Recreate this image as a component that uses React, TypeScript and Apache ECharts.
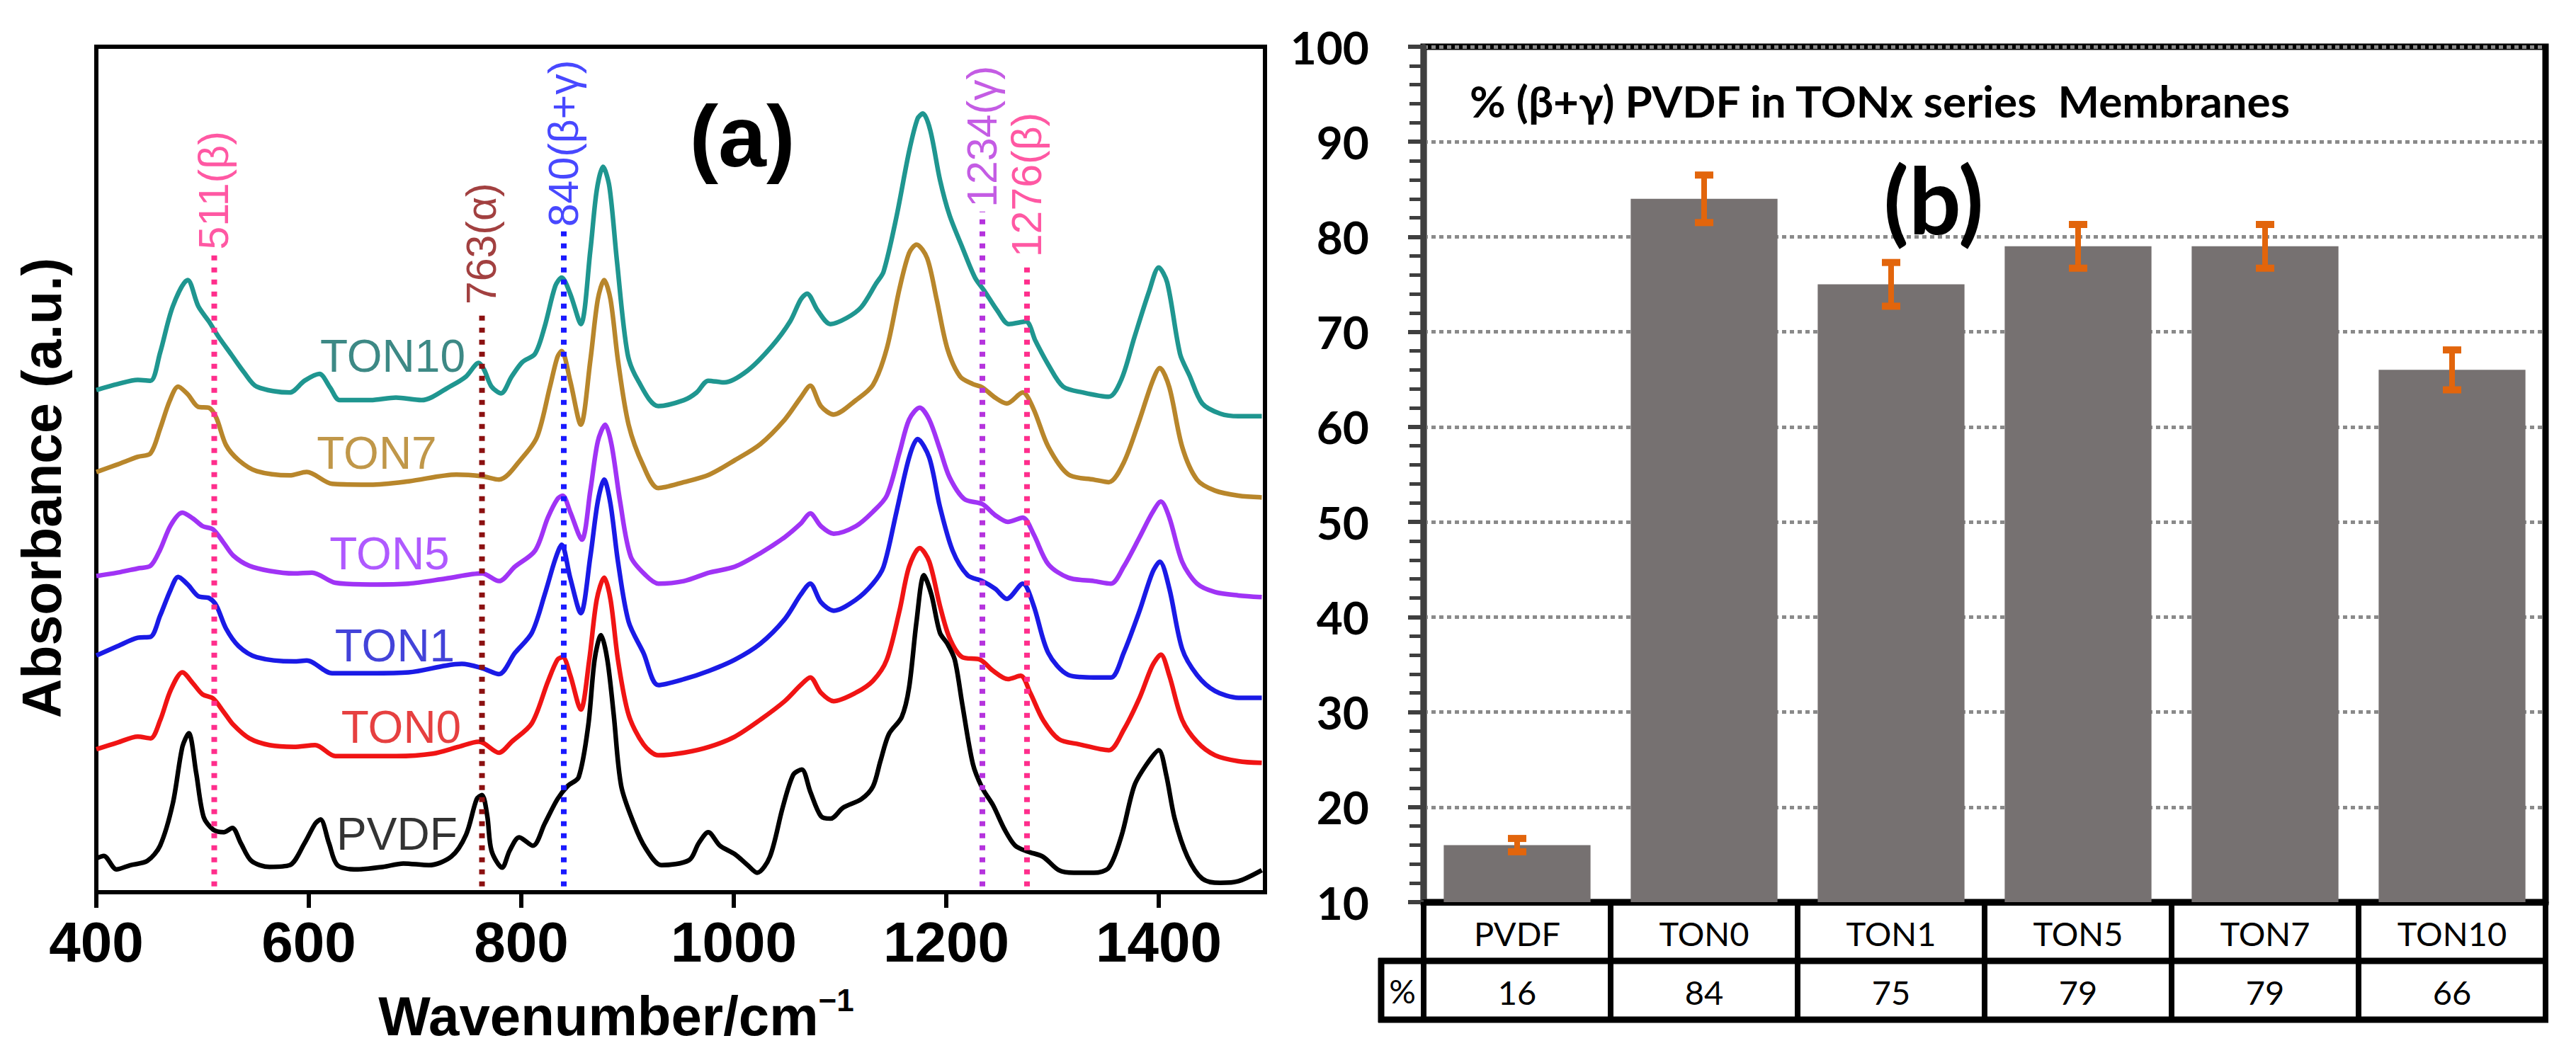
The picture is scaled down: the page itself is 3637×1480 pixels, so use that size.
import React, { useEffect, useRef } from "react";
import * as echarts from "echarts";

const PAGE_W = 3637;
const PAGE_H = 1480;

// ---------------- Panel (a): FTIR spectra (absorbance, arbitrary offset units) ----------------
const wavenumberTicks = [400, 600, 800, 1000, 1200, 1400];

const spectrumPVDF = [
  [400, 4.0], [407, 4.3], [419, 2.7], [432, 3.2], [448, 3.7], [460, 5.5], [472, 10.5], [481, 17.2], [487, 18.8],
  [494, 14.1], [501, 8.9], [510, 7.4], [520, 7.1], [528, 7.6], [536, 5.8], [546, 3.7], [563, 3.0], [582, 3.2],
  [596, 5.8], [606, 8.1], [611, 8.6], [619, 5.8], [627, 3.2], [646, 2.7], [670, 3.0], [689, 3.4], [713, 3.2],
  [734, 4.2], [748, 6.8], [758, 11.0], [763, 11.5], [768, 9.0], [772, 4.9], [782, 2.9], [789, 4.9], [798, 6.5],
  [811, 5.5], [822, 8.1], [834, 11.0], [844, 12.6], [854, 13.6], [863, 19.7], [869, 27.5], [875, 30.4], [881, 27.5],
  [887, 21.0], [894, 12.6], [906, 8.1], [917, 5.2], [932, 3.2], [958, 3.8], [967, 5.8], [976, 7.1], [987, 5.5],
  [1001, 4.5], [1013, 3.2], [1022, 2.3], [1034, 4.2], [1046, 10.0], [1056, 13.9], [1064, 14.5], [1072, 11.9],
  [1082, 9.0], [1091, 8.7], [1103, 10.0], [1120, 11.0], [1131, 12.5], [1138, 15.5], [1146, 18.7], [1158, 20.7],
  [1165, 24.2], [1172, 32.0], [1179, 37.5], [1186, 35.2], [1194, 30.7], [1201, 29.4], [1208, 27.5], [1215, 22.3],
  [1225, 15.2], [1234, 12.3], [1244, 10.3], [1255, 7.4], [1265, 5.5], [1277, 4.8], [1291, 4.2], [1306, 2.6],
  [1320, 2.3], [1339, 2.3], [1353, 2.9], [1365, 6.7], [1377, 12.6], [1389, 15.2], [1400, 16.8], [1407, 13.9],
  [1415, 8.7], [1427, 4.2], [1441, 1.6], [1458, 1.1], [1475, 1.3], [1497, 2.6],
];

const spectrumTON0 = [
  [400, 16.9], [420, 17.7], [439, 18.4], [451, 18.2], [460, 20.3], [470, 23.9], [481, 26.0], [491, 24.7], [500, 23.4],
  [510, 22.9], [520, 21.3], [529, 19.8], [544, 18.2], [563, 17.4], [586, 17.2], [606, 17.4], [625, 16.1], [646, 16.1],
  [682, 16.1], [717, 16.4], [741, 17.2], [760, 17.8], [765, 17.6], [779, 16.5], [791, 17.8], [810, 20.0], [825, 24.9],
  [834, 27.5], [839, 27.8], [846, 25.7], [856, 21.6], [864, 27.5], [871, 34.6], [878, 37.2], [884, 34.6], [891, 27.5],
  [901, 21.0], [915, 17.5], [929, 16.2], [953, 16.5], [977, 17.2], [1001, 18.4], [1025, 20.4], [1048, 22.6],
  [1063, 24.5], [1072, 25.4], [1082, 23.6], [1094, 22.6], [1115, 23.6], [1131, 25.0], [1144, 27.5], [1156, 33.3],
  [1165, 38.5], [1175, 40.7], [1184, 39.1], [1194, 33.9], [1203, 30.1], [1215, 27.8], [1232, 27.5], [1244, 26.2],
  [1258, 25.2], [1270, 25.6], [1279, 23.6], [1291, 20.4], [1306, 18.1], [1325, 17.5], [1353, 16.8], [1367, 19.2],
  [1382, 23.0], [1394, 26.8], [1402, 28.1], [1410, 25.6], [1422, 20.4], [1436, 17.8], [1453, 16.2], [1475, 15.5],
  [1497, 15.3],
];

const spectrumTON1 = [
  [400, 28.0], [420, 29.1], [439, 30.1], [451, 30.2], [460, 32.7], [470, 35.8], [477, 37.3], [486, 36.4], [496, 35.0],
  [506, 34.8], [513, 33.9], [522, 31.2], [534, 29.1], [551, 27.8], [586, 27.3], [598, 27.4], [622, 25.9], [658, 25.9],
  [694, 26.0], [729, 26.8], [744, 27.0], [763, 26.5], [779, 25.8], [794, 28.3], [810, 30.7], [822, 35.2], [832, 39.4],
  [838, 41.1], [846, 37.2], [856, 33.0], [865, 39.7], [872, 46.2], [878, 48.8], [884, 45.9], [891, 39.1], [901, 32.0],
  [915, 28.3], [929, 24.5], [953, 25.2], [977, 26.2], [1001, 27.5], [1025, 29.4], [1048, 32.3], [1063, 35.2],
  [1072, 36.5], [1082, 34.3], [1094, 33.3], [1115, 34.6], [1131, 36.5], [1141, 38.5], [1153, 44.9], [1165, 51.4],
  [1173, 53.6], [1184, 51.4], [1194, 45.6], [1206, 40.4], [1220, 37.5], [1234, 36.8], [1246, 35.9], [1257, 34.7],
  [1272, 36.5], [1282, 34.0], [1296, 28.3], [1315, 25.7], [1339, 25.4], [1355, 25.4], [1367, 28.3], [1382, 33.3],
  [1394, 37.8], [1401, 39.1], [1410, 35.9], [1422, 28.8], [1436, 25.7], [1453, 23.8], [1475, 23.0], [1497, 23.0],
];

const spectrumTON5 = [
  [400, 37.4], [420, 37.8], [439, 38.3], [451, 38.6], [460, 40.5], [470, 43.4], [481, 44.9], [491, 44.2], [500, 43.3],
  [510, 42.9], [520, 41.3], [529, 39.8], [544, 38.6], [563, 38.0], [586, 37.7], [603, 37.8], [625, 36.6], [658, 36.4],
  [694, 36.5], [729, 37.1], [763, 37.7], [779, 36.8], [794, 38.5], [813, 40.4], [825, 44.3], [834, 46.5], [839, 46.9],
  [846, 45.0], [857, 41.7], [865, 47.5], [872, 53.3], [879, 55.3], [885, 52.9], [893, 46.2], [903, 39.7], [917, 37.5],
  [929, 36.5], [953, 36.8], [977, 37.8], [1001, 38.5], [1025, 40.1], [1048, 42.0], [1063, 43.6], [1072, 44.8],
  [1082, 43.3], [1094, 42.4], [1115, 43.3], [1131, 45.0], [1144, 46.9], [1156, 52.0], [1165, 55.9], [1175, 57.3],
  [1184, 55.9], [1194, 52.4], [1203, 49.1], [1217, 46.5], [1234, 45.9], [1246, 44.6], [1258, 43.8], [1272, 44.3],
  [1282, 42.4], [1296, 38.8], [1315, 37.2], [1339, 36.8], [1355, 36.5], [1367, 38.5], [1382, 42.0], [1394, 44.9],
  [1402, 46.2], [1410, 44.3], [1422, 39.1], [1436, 36.5], [1453, 35.5], [1475, 35.1], [1497, 34.9],
];

const spectrumTON7 = [
  [400, 49.7], [420, 50.6], [439, 51.5], [451, 51.9], [460, 54.8], [469, 58.1], [477, 59.8], [486, 58.9], [496, 57.4],
  [506, 57.3], [513, 56.1], [522, 52.9], [534, 51.1], [551, 49.8], [582, 49.3], [598, 49.7], [622, 48.3], [658, 48.2],
  [694, 48.6], [739, 49.4], [763, 49.2], [779, 48.8], [801, 51.4], [815, 53.9], [827, 59.8], [834, 63.3], [838, 64.0],
  [846, 60.5], [856, 55.3], [865, 62.9], [872, 70.1], [878, 72.4], [884, 70.1], [891, 62.9], [901, 55.3], [915, 50.4],
  [929, 47.8], [953, 48.5], [977, 49.4], [1001, 51.1], [1025, 53.0], [1048, 55.9], [1063, 58.5], [1072, 59.9],
  [1082, 57.5], [1094, 56.5], [1115, 58.2], [1131, 60.0], [1144, 64.3], [1156, 71.4], [1165, 75.6], [1172, 76.6],
  [1182, 75.0], [1191, 70.1], [1201, 64.3], [1213, 61.0], [1225, 60.1], [1234, 59.7], [1246, 58.5], [1257, 57.8],
  [1272, 59.1], [1282, 57.2], [1296, 52.7], [1315, 49.4], [1339, 48.8], [1353, 48.5], [1367, 50.8], [1382, 55.9],
  [1394, 60.4], [1401, 62.0], [1410, 59.7], [1422, 52.7], [1436, 48.8], [1453, 47.5], [1475, 46.9], [1497, 46.7],
];

const spectrumTON10 = [
  [400, 59.4], [420, 60.1], [439, 60.6], [451, 60.5], [460, 63.8], [472, 69.3], [486, 72.4], [496, 69.3], [506, 67.5],
  [515, 65.7], [527, 63.6], [539, 61.5], [551, 59.8], [582, 59.1], [596, 60.5], [610, 61.3], [620, 59.7], [629, 58.2],
  [658, 58.2], [682, 58.5], [706, 58.2], [734, 59.9], [748, 61.0], [760, 62.6], [765, 61.8], [772, 59.8], [781, 59.0],
  [791, 61.0], [801, 62.7], [813, 63.7], [822, 66.9], [832, 71.7], [838, 72.7], [846, 70.8], [856, 67.2], [865, 75.9],
  [871, 83.0], [877, 85.8], [883, 83.4], [890, 74.7], [900, 63.7], [910, 60.5], [929, 57.5], [953, 58.2], [965, 59.1],
  [976, 60.5], [991, 60.3], [1013, 61.7], [1036, 64.6], [1053, 67.5], [1063, 70.1], [1069, 70.8], [1079, 68.8],
  [1091, 67.2], [1106, 67.9], [1120, 69.2], [1134, 72.0], [1141, 73.4], [1153, 79.8], [1165, 87.6], [1173, 91.5],
  [1178, 92.1], [1185, 90.1], [1194, 84.3], [1203, 80.1], [1215, 76.3], [1227, 72.7], [1236, 71.1], [1248, 68.8],
  [1259, 67.2], [1275, 67.5], [1284, 65.2], [1296, 62.4], [1310, 59.8], [1329, 59.1], [1353, 58.6], [1365, 60.7],
  [1377, 65.6], [1391, 71.1], [1400, 73.9], [1408, 72.1], [1420, 63.7], [1429, 61.1], [1441, 57.8], [1458, 56.6],
  [1475, 56.3], [1497, 56.3],
];

const spectrumNames = ["PVDF", "TON0", "TON1", "TON5", "TON7", "TON10"];
const spectra = [spectrumPVDF, spectrumTON0, spectrumTON1, spectrumTON5, spectrumTON7, spectrumTON10];
const spectrumLabelAnchors = [
  [683, 6.9], [687, 19.5], [681, 29.1], [676, 40.0], [664, 51.9], [679, 63.4],
];

const peakWavenumbers = [511, 763, 840, 1234, 1276];
const peakLabels = ["511(β)", "763(α)", "840(β+γ)", "1234(γ)", "1276(β)"];
const peakLineTops = [75.5, 69.0, 78.2, 80.5, 74.6];
const peakLineBottom = 0.7;

// ---------------- Panel (b): % (β+γ) bar chart ----------------
const membranes = ["PVDF", "TON0", "TON1", "TON5", "TON7", "TON10"];
const betaGammaPercent = [16, 84, 75, 79, 79, 66];
const betaGammaError = [0.7, 2.5, 2.3, 2.3, 2.3, 2.1];

// ---------------- Styles ----------------
const spectrumColors = ["#000000", "#f01414", "#1a1ae6", "#a033f5", "#b8862b", "#1f9690"];
const spectrumLabelColors = ["#000000", "#e01010", "#1414d0", "#9b30ff", "#b07d1c", "#0d6b66"];
const peakColors = ["#ff2e8c", "#8b1010", "#1a1aff", "#b533dd", "#ff2e8c"];

const FA = '"Liberation Sans", Arial, sans-serif';
const FB = 'Lato, "Open Sans", sans-serif';

// layout
const GA = { left: 136, top: 66, width: 1650, height: 1194 };
const GB = { left: 2010, top: 66, width: 1584, height: 1208 };
const ROW_H = 83;

function buildOption(): any {
  const gbBottom = GB.top + GB.height;
  const gbRight = GB.left + GB.width;

  const spectrumSeries = spectra
    .map((d, i) => ({
      type: "line",
      name: spectrumNames[i],
      xAxisIndex: 0,
      yAxisIndex: 0,
      data: d,
      showSymbol: false,
      symbol: "none",
      smooth: 0.3,
      lineStyle: { color: spectrumColors[i], width: 6.5 },
      z: 2,
    }))
    .reverse();

  const peakLineSeries = peakWavenumbers.map((w, i) => ({
    type: "line",
    xAxisIndex: 0,
    yAxisIndex: 0,
    data: [
      [w, peakLineBottom],
      [w, peakLineTops[i]],
    ],
    symbol: "none",
    lineStyle: { color: peakColors[i], width: 8, type: [7, 10], cap: "butt" },
    z: 4,
  }));

  const peakLabelSeries = {
    type: "scatter",
    xAxisIndex: 0,
    yAxisIndex: 0,
    symbolSize: 0.1,
    itemStyle: { color: "transparent" },
    z: 5,
    data: peakWavenumbers.map((w, i) => ({
      value: [w, peakLineTops[i]],
      label: { formatter: peakLabels[i], color: peakColors[i] },
    })),
    label: {
      show: true,
      position: [0, -6],
      align: "left",
      verticalAlign: "middle",
      rotate: 90,
      fontFamily: FA,
      fontSize: 59,
    },
  };

  const spectrumLabelSeries = {
    type: "scatter",
    xAxisIndex: 0,
    yAxisIndex: 0,
    symbolSize: 0.1,
    itemStyle: { color: "transparent" },
    z: 5,
    data: spectrumLabelAnchors.map((p, i) => ({
      value: p,
      label: { formatter: spectrumNames[i], color: spectrumLabelColors[i] },
    })),
    label: {
      show: true,
      position: [0, 0],
      align: "center",
      verticalAlign: "middle",
      fontFamily: FA,
      fontSize: 64,
    },
  };

  const barSeries = {
    type: "bar",
    xAxisIndex: 1,
    yAxisIndex: 1,
    data: betaGammaPercent,
    barWidth: "78.5%",
    itemStyle: { color: "#767171" },
    z: 2,
  };

  const errorSeries = {
    type: "custom",
    xAxisIndex: 1,
    yAxisIndex: 1,
    z: 4,
    encode: { x: 0, y: [1, 2] },
    data: betaGammaPercent.map((v, i) => [i, v - betaGammaError[i], v + betaGammaError[i]]),
    renderItem: (params: any, api: any) => {
      const x = api.value(0);
      const lo = api.coord([x, api.value(1)]);
      const hi = api.coord([x, api.value(2)]);
      const c = "#e2650c";
      const half = 13;
      return {
        type: "group",
        children: [
          { type: "line", shape: { x1: lo[0], y1: lo[1], x2: hi[0], y2: hi[1] }, style: { stroke: c, lineWidth: 8 } },
          { type: "line", shape: { x1: lo[0] - half, y1: lo[1], x2: lo[0] + half, y2: lo[1] }, style: { stroke: c, lineWidth: 10 } },
          { type: "line", shape: { x1: hi[0] - half, y1: hi[1], x2: hi[0] + half, y2: hi[1] }, style: { stroke: c, lineWidth: 10 } },
        ],
      };
    },
  };

  const tableLabelStyle = {
    margin: 20,
    fontFamily: FB,
    fontSize: 47,
    lineHeight: 47,
    color: "#000",
  };

  return {
    animation: false,
    backgroundColor: "#ffffff",
    textStyle: { fontFamily: FA },
    grid: [
      { ...GA, show: true, borderColor: "#000", borderWidth: 6, backgroundColor: "transparent", containLabel: false },
      { ...GB, show: true, borderColor: "#000", borderWidth: 9, backgroundColor: "transparent", containLabel: false },
    ],
    xAxis: [
      {
        type: "value",
        gridIndex: 0,
        min: 400,
        max: 1500,
        interval: 200,
        axisLine: { show: true, onZero: false, lineStyle: { color: "#000", width: 6 } },
        axisTick: { show: true, customValues: wavenumberTicks, length: 22, lineStyle: { color: "#000", width: 6 } },
        axisLabel: {
          customValues: wavenumberTicks,
          formatter: (v: number) => String(v),
          margin: 30,
          fontFamily: FA,
          fontWeight: "bold",
          fontSize: 80,
          lineHeight: 80,
          color: "#000",
        },
        splitLine: { show: false },
      },
      {
        type: "category",
        gridIndex: 1,
        data: membranes,
        position: "bottom",
        axisLine: { show: true, onZero: false, lineStyle: { color: "#000", width: 9 } },
        axisTick: { show: true, alignWithLabel: false, length: ROW_H * 2, lineStyle: { color: "#000", width: 8 } },
        axisLabel: tableLabelStyle,
        splitLine: { show: false },
      },
      {
        type: "category",
        gridIndex: 1,
        data: betaGammaPercent.map(String),
        position: "bottom",
        offset: ROW_H,
        axisLine: { show: false },
        axisTick: { show: false },
        axisLabel: tableLabelStyle,
        splitLine: { show: false },
      },
    ],
    yAxis: [
      { type: "value", gridIndex: 0, min: 0, max: 100, show: false },
      {
        type: "value",
        gridIndex: 1,
        min: 10,
        max: 100,
        interval: 10,
        axisLine: { show: true, lineStyle: { color: "#3f3f3f", width: 8 } },
        axisTick: { show: true, length: 22, lineStyle: { color: "#3f3f3f", width: 6 } },
        minorTick: { show: true, splitNumber: 5, length: 20, lineStyle: { color: "#3f3f3f", width: 5 } },
        axisLabel: { margin: 77, fontFamily: FB, fontWeight: "bold", fontSize: 64, color: "#000" },
        splitLine: { show: true, lineStyle: { color: "#8a8a8a", width: 5, type: [6, 5] } },
      },
    ],
    graphic: [
      {
        type: "text",
        x: 1048,
        y: 193,
        z: 10,
        style: { text: "(a)", fontFamily: FA, fontWeight: "bold", fontSize: 122, fill: "#000", align: "center", verticalAlign: "middle" },
      },
      {
        type: "text",
        x: 870,
        y: 1432,
        z: 10,
        style: {
          text: "{m|Wavenumber/cm}{s|−1}",
          align: "center",
          verticalAlign: "middle",
          fill: "#000",
          rich: {
            m: { fontFamily: FA, fontWeight: "bold", fontSize: 78, lineHeight: 84, fill: "#000", verticalAlign: "bottom" },
            s: { fontFamily: FA, fontWeight: "bold", fontSize: 44, lineHeight: 46, fill: "#000", verticalAlign: "top" },
          },
        },
      },
      {
        type: "text",
        x: 59,
        y: 689,
        rotation: Math.PI / 2,
        z: 10,
        style: { text: "Absorbance (a.u.)", fontFamily: FA, fontWeight: "bold", fontSize: 77, fill: "#000", align: "center", verticalAlign: "middle" },
      },
      {
        type: "text",
        x: 2075,
        y: 142,
        z: 10,
        style: { text: "% (β+γ) PVDF in TONx series  Membranes", fontFamily: FB, fontWeight: "bold", fontSize: 62, fill: "#000", align: "left", verticalAlign: "middle" },
      },
      {
        type: "text",
        x: 2730,
        y: 281,
        z: 10,
        style: { text: "(b)", fontFamily: FB, fontWeight: "bold", fontSize: 130, fill: "#000", align: "center", verticalAlign: "middle" },
      },
      // table frame (rows below the category axis)
      {
        type: "line",
        z: 10,
        shape: { x1: 1946, y1: gbBottom + ROW_H, x2: gbRight + 4, y2: gbBottom + ROW_H },
        style: { stroke: "#000", lineWidth: 9 },
      },
      {
        type: "line",
        z: 10,
        shape: { x1: 1946, y1: gbBottom + ROW_H * 2, x2: gbRight + 4, y2: gbBottom + ROW_H * 2 },
        style: { stroke: "#000", lineWidth: 9 },
      },
      {
        type: "line",
        z: 10,
        shape: { x1: 1950, y1: gbBottom + ROW_H - 4, x2: 1950, y2: gbBottom + ROW_H * 2 + 4 },
        style: { stroke: "#000", lineWidth: 9 },
      },
      {
        type: "text",
        x: 1980,
        y: gbBottom + ROW_H * 1.5,
        z: 10,
        style: { text: "%", fontFamily: FB, fontSize: 47, fill: "#000", align: "center", verticalAlign: "middle" },
      },
    ],
    series: [...spectrumSeries, ...peakLineSeries, peakLabelSeries, spectrumLabelSeries, barSeries, errorSeries],
  };
}

export default function App() {
  const ref = useRef<HTMLDivElement | null>(null);
  useEffect(() => {
    if (!ref.current) return;
    const chart = echarts.init(ref.current, null, { renderer: "svg" });
    chart.setOption(buildOption());
    return () => {
      chart.dispose();
    };
  }, []);
  return (
    <div
      ref={ref}
      style={{ position: "fixed", left: 0, top: 0, width: PAGE_W, height: PAGE_H, background: "#fff" }}
    />
  );
}
